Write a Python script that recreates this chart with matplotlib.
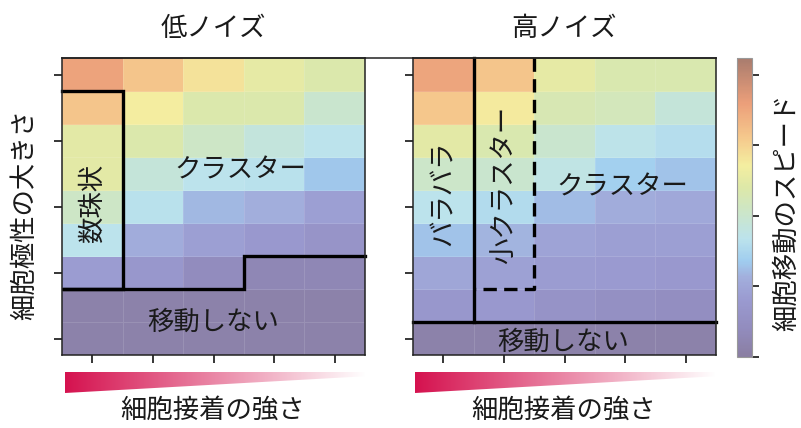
import matplotlib
matplotlib.use("Agg")
import matplotlib.pyplot as plt
import numpy as np
from matplotlib.colors import LinearSegmentedColormap, Normalize
from matplotlib.lines import Line2D
from matplotlib.patches import Polygon

plt.rcParams["font.family"] = ["Noto Sans CJK JP", "DejaVu Sans"]

# cell speed, rows listed from the top (large polarity) to the bottom
speed_low = [
    [0.89, 0.79, 0.71, 0.63, 0.59],
    [0.79, 0.68, 0.59, 0.59, 0.50],
    [0.62, 0.59, 0.52, 0.46, 0.42],
    [0.62, 0.47, 0.42, 0.41, 0.33],
    [0.52, 0.41, 0.30, 0.28, 0.22],
    [0.42, 0.27, 0.22, 0.19, 0.16],
    [0.21, 0.18, 0.10, 0.07, 0.07],
    [0.03, 0.03, 0.03, 0.03, 0.03],
    [0.03, 0.03, 0.03, 0.03, 0.03],
]
speed_high = [
    [0.88, 0.79, 0.63, 0.58, 0.58],
    [0.78, 0.69, 0.57, 0.55, 0.47],
    [0.62, 0.58, 0.50, 0.43, 0.40],
    [0.51, 0.50, 0.44, 0.35, 0.32],
    [0.42, 0.39, 0.31, 0.27, 0.26],
    [0.32, 0.29, 0.24, 0.22, 0.22],
    [0.25, 0.23, 0.21, 0.20, 0.19],
    [0.18, 0.19, 0.15, 0.13, 0.12],
    [0.03, 0.03, 0.03, 0.03, 0.03],
]
panel_titles = ["低ノイズ", "高ノイズ"]

# phase boundaries (x = adhesion column edge, y = polarity row edge from bottom)
low_boundary = [(0, 8), (1, 8), (1, 2), (0, 2), (3, 2), (3, 3), (5, 3)]
high_solid_v = [(1, 9), (1, 1)]
high_solid_h = [(0, 1), (5, 1)]
high_dashed = [(2, 9), (2, 2), (1, 2)]

low_labels = [("数珠状", 0.5, 4.6, 90), ("クラスター", 2.95, 5.6, 0),
              ("移動しない", 2.5, 1.0, 0)]
high_labels = [("バラバラ", 0.5, 4.9, 90), ("小クラスター", 1.5, 5.15, 90),
               ("クラスター", 3.45, 5.1, 0), ("移動しない", 2.48, 0.4, 0)]

cbar_ticks = [0, 0.25, 0.5, 0.75, 1.0]
vmax = 1.06

anchors = [
    (0.00, "#8a7ea2"), (0.10, "#928cbe"), (0.20, "#9a9ad0"),
    (0.28, "#a2aedc"), (0.34, "#a0cdef"), (0.42, "#bce3ec"),
    (0.52, "#cde6c6"), (0.60, "#dde8a8"), (0.68, "#f4eea0"),
    (0.78, "#f5c88c"), (0.90, "#ec9f7a"), (1.06, "#a97c6e"),
]
cmap = LinearSegmentedColormap.from_list(
    "speed", [(v / vmax, c) for v, c in anchors])
norm = Normalize(0, vmax)

W, H = 801, 428
fig = plt.figure(figsize=(W / 100, H / 100), dpi=100)


def px_axes(x0, y0, x1, y1):
    return fig.add_axes([x0 / W, 1 - y1 / H, (x1 - x0) / W, (y1 - y0) / H])


ax_low = px_axes(62, 58, 365, 355)
ax_high = px_axes(413, 58, 716, 355)
cax = px_axes(737, 58, 752, 357)

txt = "#1a1a1a"


def draw_panel(ax, data, title):
    vals = np.array(data)[::-1]
    ax.pcolormesh(np.arange(6), np.arange(10), vals, cmap=cmap, norm=norm,
                  edgecolors=(1, 1, 1, 0.12), linewidth=0.5)
    ax.set_xlim(0, 5)
    ax.set_ylim(0, 9)
    ax.set_xticks(np.arange(5) + 0.5)
    ax.set_yticks([0.5, 2.5, 4.5, 6.5, 8.5])
    ax.set_xticklabels([])
    ax.set_yticklabels([])
    ax.tick_params(length=6, width=1.1, direction="out")
    for s in ax.spines.values():
        s.set_linewidth(1.1)
        s.set_color("#222222")
    ax.text(0.5, 1.10, title, transform=ax.transAxes, ha="center",
            va="center", fontsize=19, color=txt)


def path(ax, pts, **kw):
    xs, ys = zip(*pts)
    ax.plot(xs, ys, color="black", lw=2.4, clip_on=False,
            solid_joinstyle="miter", **kw)


draw_panel(ax_low, speed_low, panel_titles[0])
draw_panel(ax_high, speed_high, panel_titles[1])

path(ax_low, low_boundary)
path(ax_high, high_solid_v)
path(ax_high, high_solid_h)
path(ax_high, high_dashed, linestyle=(0, (4, 2.2)))

for ax, labels in [(ax_low, low_labels), (ax_high, high_labels)]:
    for s, x, y, rot in labels:
        ax.text(x, y, s, rotation=rot, ha="center", va="center",
                fontsize=19, color=txt)

# frame line running across the top of both panels
fig.add_artist(Line2D([62 / W, 716 / W], [1 - 57.5 / H, 1 - 57.5 / H],
                      color="#222222", lw=1.1))

cb = fig.colorbar(plt.cm.ScalarMappable(norm=norm, cmap=cmap), cax=cax,
                  ticks=cbar_ticks)
cb.ax.set_yticklabels([])
cb.ax.tick_params(length=5, width=1.1)
cb.outline.set_edgecolor("#999999")
cb.outline.set_linewidth(0.8)

fig.text(25 / W, 1 - 215 / H, "細胞極性の大きさ", rotation=90, ha="center",
         va="center", fontsize=19, color=txt)
fig.text(786 / W, 1 - 212 / H, "細胞移動のスピード", rotation=90,
         ha="center", va="center", fontsize=19, color=txt)

# adhesion wedges under each panel
grad = LinearSegmentedColormap.from_list("adh", ["#d5124f", "#ffffff"])
for x0, x1, cx in [(65, 366, 213), (415, 716, 564)]:
    wax = px_axes(x0, 372, x1, 393)
    wax.set_axis_off()
    im = wax.imshow(np.linspace(0, 1, 256)[None, :], cmap=grad,
                    aspect="auto", extent=(0, 1, 0, 1))
    wedge = Polygon([(0, 1), (1, 1), (1, 0.8), (0, 0)], closed=True,
                    transform=wax.transAxes, facecolor="none",
                    edgecolor="none")
    wax.add_patch(wedge)
    im.set_clip_path(wedge)
    fig.text(cx / W, 1 - 410 / H, "細胞接着の強さ", ha="center",
             va="center", fontsize=19, color=txt)

fig.savefig("out.png", dpi=100)
